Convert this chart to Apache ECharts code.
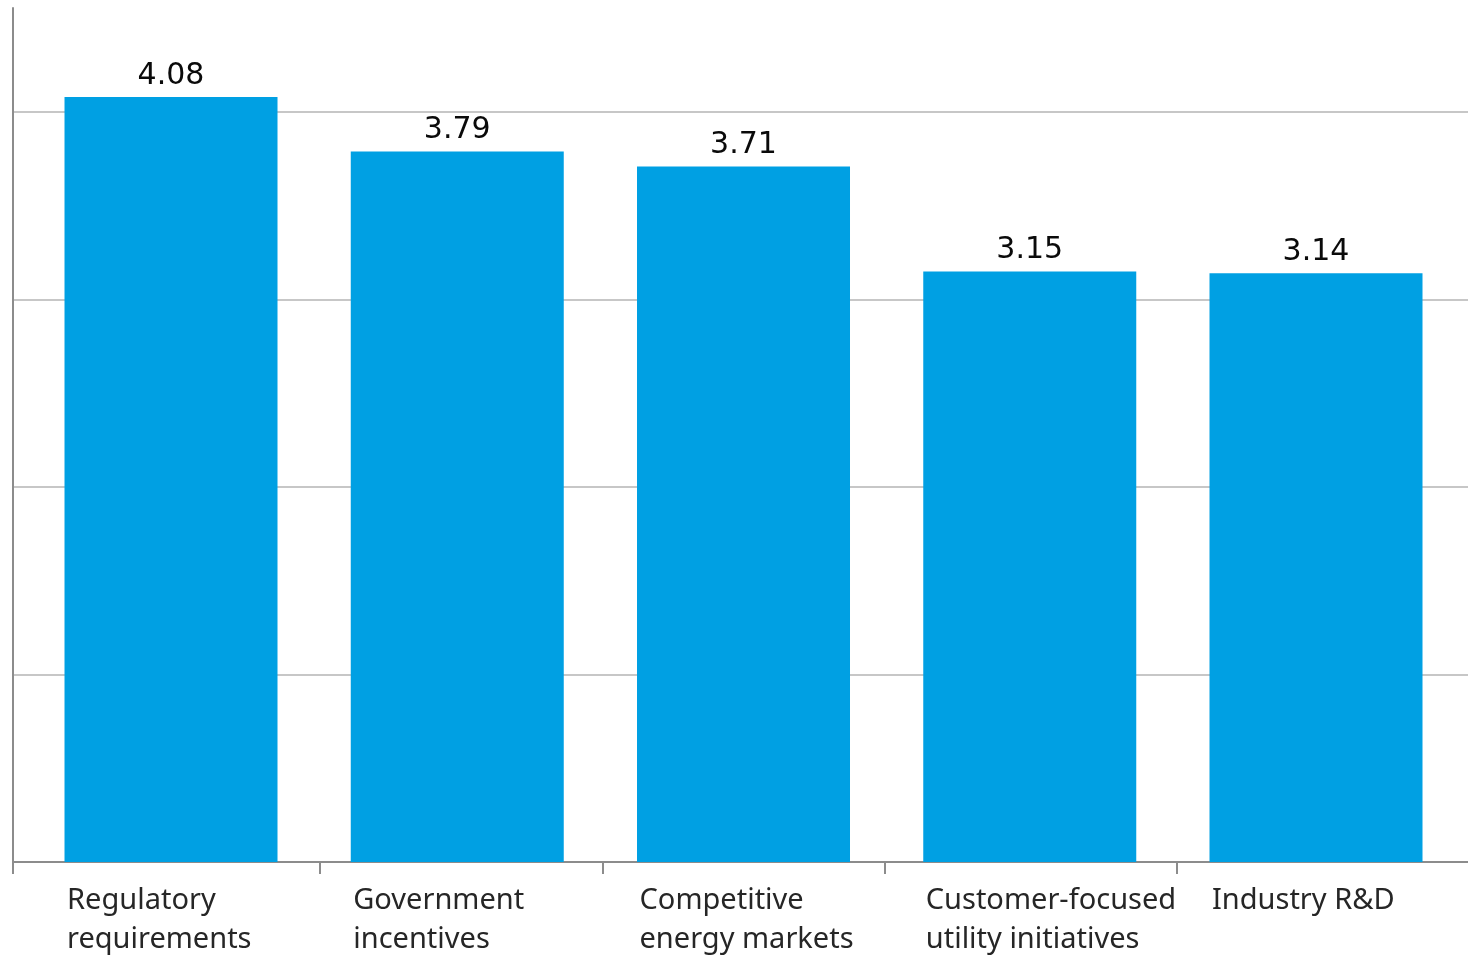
<!DOCTYPE html>
<html>
<head>
<meta charset="utf-8">
<script src="https://cdn.jsdelivr.net/npm/echarts@6/dist/echarts.min.js"></script>
<style>
html,body{margin:0;padding:0;background:#fff;}
#c{width:1468px;height:955px;}
</style>
</head>
<body>
<div id="c"></div>
<script>
const categories = [
  "Regulatory\nrequirements",
  "Government\nincentives",
  "Competitive\nenergy markets",
  "Customer-focused\nutility initiatives",
  "Industry R&D"
];
const values = [4.08, 3.79, 3.71, 3.15, 3.14];
const yTicks = [0, 1, 2, 3, 4];

const chart = echarts.init(document.getElementById('c'));
const barData = values.map((v, i) => [i, v]);

chart.setOption({
  animation: false,
  grid: { left: 13, right: 0, top: 8, bottom: 93, containLabel: false },
  xAxis: {
    type: 'value',
    min: -0.552,
    max: 4.531,
    splitLine: { show: false },
    axisLine: { show: true, onZero: false, lineStyle: { color: '#8c8c8c', width: 2 } },
    axisTick: {
      show: true,
      customValues: [-0.552, 0.52, 1.51, 2.495, 3.515],
      length: 12,
      lineStyle: { color: '#8c8c8c', width: 2 }
    },
    axisLabel: {
      show: true,
      customValues: [0, 1, 2, 3, 4],
      margin: 19,
      align: 'center',
      formatter: function (v) {
        const c = categories[Math.round(v)];
        if (c === undefined) return '';
        return c.split('\n').map(s => '{a|' + s + '}').join('\n');
      },
      rich: {
        a: {
          width: 212,
          align: 'left',
          padding: [0, 0, 0, 4],
          fontFamily: 'Noto Sans',
          fontSize: 29,
          lineHeight: 39,
          color: '#262626'
        }
      }
    }
  },
  yAxis: {
    type: 'value',
    min: 0,
    max: 4.555,
    interval: 1,
    axisLine: { show: true, onZero: false, lineStyle: { color: '#8c8c8c', width: 2 } },
    axisTick: { show: false },
    axisLabel: { show: false },
    splitLine: { show: true, showMaxLine: false, showMinLine: false, lineStyle: { color: '#b4b4b4', width: 1.5 } }
  },
  series: [{
    type: 'bar',
    data: barData,
    barWidth: 213,
    itemStyle: { color: '#00a0e3' },
    label: {
      show: true,
      position: 'top',
      distance: 6,
      formatter: p => p.value[1].toFixed(2),
      fontFamily: 'DejaVu Sans',
      fontSize: 30,
      fontWeight: 'normal',
      color: '#0a0a0a'
    }
  }]
});
</script>
</body>
</html>
